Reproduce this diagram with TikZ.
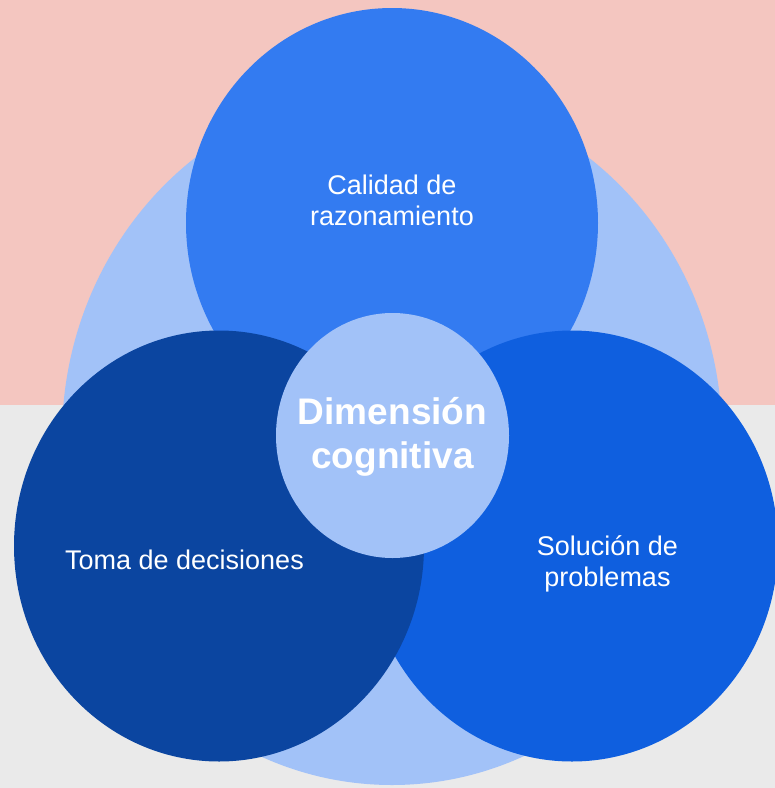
\documentclass[tikz,border=0pt]{standalone}
\usepackage{fontspec}
\setmainfont{Liberation Sans}
\usetikzlibrary{shapes.geometric}
\definecolor{pinkbg}{HTML}{F4C6C0}
\definecolor{graybg}{HTML}{EAEAEA}
\definecolor{paleblue}{HTML}{A2C2F8}
\definecolor{topblue}{HTML}{337BF1}
\definecolor{midblue}{HTML}{0F5FDF}
\definecolor{darkblue}{HTML}{0B45A0}
\begin{document}
\begin{tikzpicture}[x=1pt,y=-1pt,
    blob/.style={ellipse,inner sep=0pt,draw=none},
    lbl/.style={text=white,align=center,anchor=base,font=\fontsize{27}{31}\selectfont}]
    \useasboundingbox (0,0) rectangle (775,788);
    \clip (0,0) rectangle (775,788);
    \fill[pinkbg] (0,0) rectangle (775,405);
    \fill[graybg] (0,405) rectangle (775,788);
    \node[blob,fill=paleblue,minimum width=660pt,minimum height=696pt] (outer) at (392,437) {};
    \node[blob,fill=topblue,minimum width=412pt,minimum height=430pt] (reason) at (392,223) {};
    \node[blob,fill=midblue,minimum width=412pt,minimum height=431pt] (solve) at (572,546) {};
    \node[blob,fill=darkblue,minimum width=410pt,minimum height=431pt] (decide) at (219,546) {};
    \node[blob,fill=paleblue,minimum width=233pt,minimum height=245pt] (core) at (392.5,435.5) {};
    \node[lbl] (reasontxt) at (392,225) {Calidad de\\razonamiento};
    \node[lbl] (decidetxt) at (184.5,569) {Toma de decisiones};
    \node[lbl] (solvetxt) at (607.5,586) {Solución de\\problemas};
    \node[lbl,font=\bfseries\fontsize{37}{44}\selectfont] (coretxt) at (392.5,468) {Dimensión\\cognitiva};
\end{tikzpicture}
\end{document}
